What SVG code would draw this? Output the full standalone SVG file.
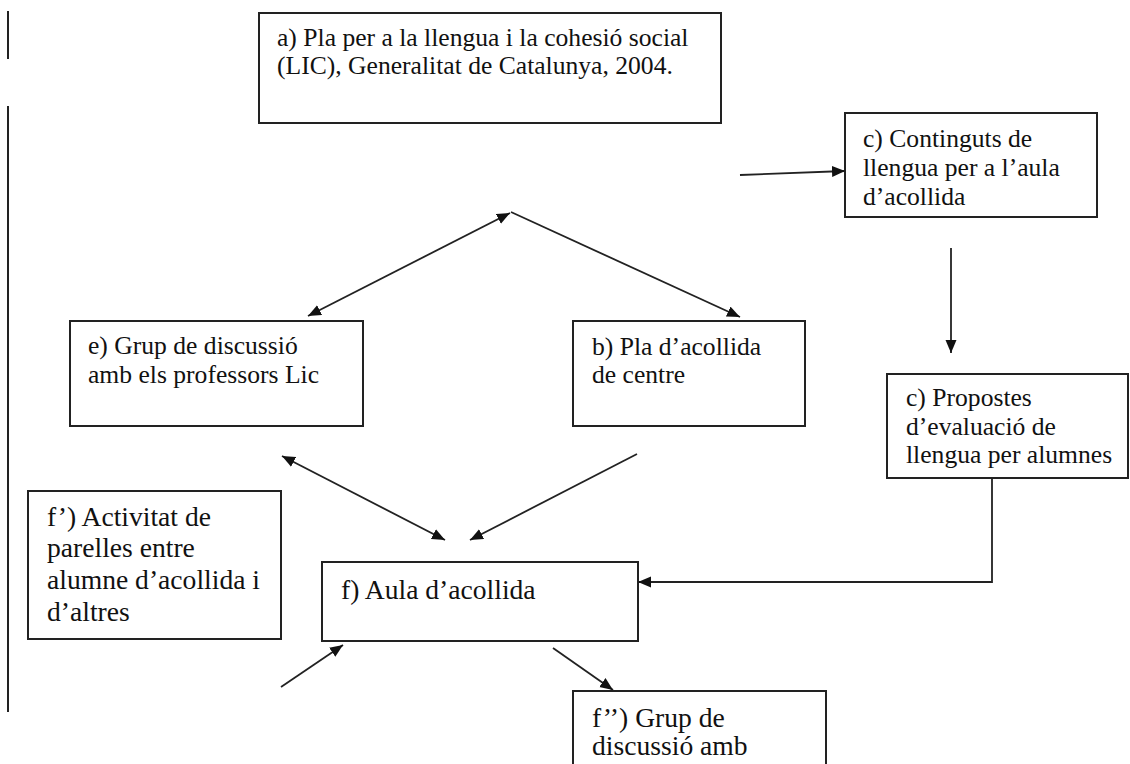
<svg xmlns="http://www.w3.org/2000/svg" width="1130" height="764" viewBox="0 0 1130 764">
<style>
.box{fill:#fff;stroke:#222;stroke-width:2}
.t{font-family:"Liberation Serif","Times New Roman",serif;font-size:25.6px;fill:#111}
.tl{font-family:"Liberation Serif","Times New Roman",serif;font-size:27.6px;fill:#111}
.c{fill:none;stroke:#222;stroke-width:1.8}
.m{stroke:#222;stroke-width:2}
</style>
<defs>
<marker id="ah" markerUnits="userSpaceOnUse" markerWidth="14" markerHeight="12" refX="13" refY="5.5" orient="auto-start-reverse">
<path d="M0,0 L13,5.5 L0,11 z" fill="#111"/>
</marker>
</defs>
<rect width="1130" height="764" fill="#fff"/>
<g id="margin">
<line class="m" x1="8" y1="11" x2="8" y2="59"/>
<line class="m" x1="8" y1="106" x2="8" y2="712"/>
</g>
<g id="node-a">
<rect class="box" x="259" y="13" width="462" height="110"/>
<text class="t" x="277" y="46">a) Pla per a la llengua i la cohesió social</text>
<text class="t" x="277" y="74">(LIC), Generalitat de Catalunya, 2004.</text>
</g>
<g id="node-c1">
<rect class="box" x="845" y="113" width="252" height="104"/>
<text class="t" x="863" y="147">c) Continguts de</text>
<text class="t" x="863" y="176">llengua per a l’aula</text>
<text class="t" x="863" y="205">d’acollida</text>
</g>
<g id="node-e">
<rect class="box" x="70" y="321" width="293" height="105"/>
<text class="t" x="88" y="354">e) Grup de discussió</text>
<text class="t" x="88" y="383">amb els professors Lic</text>
</g>
<g id="node-b">
<rect class="box" x="573" y="321" width="232" height="105"/>
<text class="t" x="592" y="355">b) Pla d’acollida</text>
<text class="t" x="592" y="383">de centre</text>
</g>
<g id="node-c2">
<rect class="box" x="887" y="374" width="241" height="104"/>
<text class="t" x="906" y="406">c) Propostes</text>
<text class="t" x="906" y="435">d’evaluació de</text>
<text class="t" x="906" y="463">llengua per alumnes</text>
</g>
<g id="node-f1">
<rect class="box" x="28" y="491" width="253" height="148"/>
<text class="tl" x="47" y="526">f’) Activitat de</text>
<text class="tl" x="47" y="557">parelles entre</text>
<text class="tl" x="47" y="589">alumne d’acollida i</text>
<text class="tl" x="47" y="621">d’altres</text>
</g>
<g id="node-f">
<rect class="box" x="322" y="562" width="316" height="79"/>
<text class="tl" x="341" y="599">f) Aula d’acollida</text>
</g>
<g id="node-f2">
<rect class="box" x="573" y="691" width="253" height="90"/>
<text class="tl" x="592" y="727">f’’) Grup de</text>
<text class="tl" x="592" y="755">discussió amb</text>
</g>
<g id="connectors">
<path class="c" d="M740,175 L845,171" marker-end="url(#ah)"/>
<path class="c" d="M951,248 L951,353" marker-end="url(#ah)"/>
<path class="c" d="M510,213 L308,316" marker-start="url(#ah)" marker-end="url(#ah)"/>
<path class="c" d="M511,212 L740,317" marker-end="url(#ah)"/>
<path class="c" d="M282,456 L445,540" marker-start="url(#ah)" marker-end="url(#ah)"/>
<path class="c" d="M637,454 L470,540" marker-end="url(#ah)"/>
<path class="c" d="M992,478 L992,582 L638,582" marker-end="url(#ah)"/>
<path class="c" d="M281,687 L343,645" marker-end="url(#ah)"/>
<path class="c" d="M553,648 L613,690" marker-end="url(#ah)"/>
</g>
</svg>
